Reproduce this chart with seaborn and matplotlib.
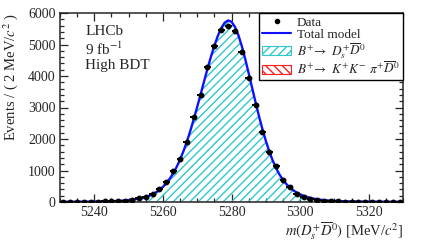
import numpy as np
import pandas as pd
import matplotlib
matplotlib.use("Agg")
import matplotlib.pyplot as plt
import seaborn as sns
from matplotlib.patches import Patch
from matplotlib.lines import Line2D

# ---- data ----
bin_centers = [5231, 5233, 5235, 5237, 5239, 5241, 5243, 5245, 5247, 5249,
               5251, 5253, 5255, 5257, 5259, 5261, 5263, 5265, 5267, 5269,
               5271, 5273, 5275, 5277, 5279, 5281, 5283, 5285, 5287, 5289,
               5291, 5293, 5295, 5297, 5299, 5301, 5303, 5305, 5307, 5309,
               5311, 5313, 5315, 5317, 5319, 5321, 5323, 5325, 5327, 5329]
counts = [8, 10, 12, 9, 14, 12, 18, 20, 30, 43,
          64, 117, 149, 255, 404, 628, 980, 1362, 1894, 2700,
          3393, 4298, 4957, 5458, 5575, 5415, 4766, 3947, 3064, 2223,
          1585, 1138, 692, 478, 266, 160, 106, 64, 32, 30,
          20, 15, 12, 14, 10, 12, 9, 10, 8, 9]

model_mass = list(range(5230, 5331))
total_model = [8, 8, 9, 9, 10, 10, 11, 12, 13, 14,
               15, 17, 19, 21, 24, 27, 31, 36, 42, 50,
               60, 72, 88, 108, 130, 155, 195, 245, 310, 385,
               480, 600, 740, 910, 1110, 1345, 1615, 1920, 2260, 2630,
               3020, 3420, 3830, 4230, 4610, 4960, 5270, 5520, 5690, 5765,
               5720, 5560, 5300, 4950, 4540, 4090, 3630, 3170, 2730, 2320,
               1945, 1610, 1320, 1075, 870, 705, 570, 460, 372, 300,
               243, 197, 160, 130, 106, 87, 72, 60, 50, 42,
               36, 31, 27, 24, 21, 19, 17, 16, 15, 14,
               13, 12, 11, 11, 10, 10, 9, 9, 9, 8, 8]
bkg_model = [6] * len(model_mass)

df_data = pd.DataFrame({"mass": bin_centers, "events": counts})
df_model = pd.DataFrame({"mass": model_mass, "total": total_model, "bkg": bkg_model})

# ---- style ----
sns.set_style("ticks")
plt.rcParams["font.family"] = ["Liberation Serif", "DejaVu Serif"]
plt.rcParams["mathtext.fontset"] = "stix"
plt.rcParams["hatch.linewidth"] = 1.0

fig = plt.figure(figsize=(4.25, 2.42), dpi=100)
ax = fig.add_axes([60 / 425, 40 / 242, 343 / 425, 189 / 242])

cyan = "#2fc8cc"
red = "#ff2020"

# signal component (hatched)
ax.fill_between(df_model["mass"], df_model["bkg"], df_model["total"],
                facecolor="none", edgecolor=cyan, hatch="////", linewidth=0)
# background component
ax.fill_between(df_model["mass"], 0, df_model["bkg"],
                facecolor="none", edgecolor=red, hatch="\\\\\\\\", linewidth=0)
sns.lineplot(data=df_model, x="mass", y="bkg", ax=ax, color=red, linewidth=1.0)
sns.lineplot(data=df_model, x="mass", y="total", ax=ax, color="#1010ff", linewidth=1.7)

# data with errors
ax.errorbar(df_data["mass"], df_data["events"], yerr=np.sqrt(df_data["events"]),
            xerr=1.0, fmt="o", color="black", markersize=3.2, elinewidth=1.4,
            capsize=0, zorder=5)

ax.set_xlim(5230, 5330)
ax.set_ylim(0, 6000)
ax.set_xticks([5240, 5260, 5280, 5300, 5320])
ax.set_xticks(np.arange(5230, 5331, 5), minor=True)
ax.set_yticks(np.arange(0, 6001, 1000))
ax.set_yticks(np.arange(0, 6001, 200), minor=True)
ax.tick_params(which="both", direction="in", top=True, right=True,
               labelsize=10, width=0.9, pad=3)
ax.tick_params(which="major", length=6)
ax.tick_params(which="minor", length=3)
for s in ax.spines.values():
    s.set_linewidth(1.1)

ax.set_xlabel(r"$m(D_s^{+}\overline{D}^{0})$ [MeV/$c^2$]", fontsize=10.5, loc="right", labelpad=0.5)
ax.set_ylabel(r"Events / ( 2 MeV/$c^2$ )", fontsize=10.5, loc="top", labelpad=6)

ax.text(0.073, 0.935, "LHCb\n9 fb$^{-1}$\nHigh BDT", transform=ax.transAxes,
        ha="left", va="top", fontsize=11, linespacing=1.15)

handles = [
    Line2D([], [], marker="o", linestyle="none", color="black", markersize=3),
    Line2D([], [], color="#1010ff", linewidth=1.5),
    Patch(facecolor="white", edgecolor=cyan, hatch="////", linewidth=0.8),
    Patch(facecolor="white", edgecolor=red, hatch="\\\\\\\\", linewidth=0.8),
]
labels = ["Data", "Total model",
          r"$B^{+}\!\to\ D_s^{+}\overline{D}^{0}$",
          r"$B^{+}\!\to\ K^{+}K^{-}\ \pi^{+}\overline{D}^{0}$"]
leg = ax.legend(handles, labels, loc="upper right", bbox_to_anchor=(1.0, 1.0),
                borderaxespad=0, fontsize=9.5, frameon=True, fancybox=False,
                edgecolor="black", framealpha=1, handlelength=2.2,
                handletextpad=0.45, labelspacing=0.0, borderpad=0.25)
leg.get_frame().set_linewidth(1.0)

fig.savefig("out.png", dpi=100)
